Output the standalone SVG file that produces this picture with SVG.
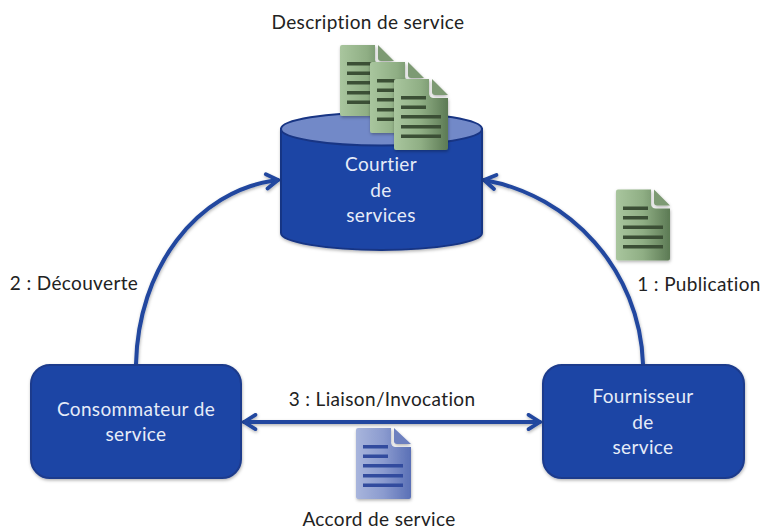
<svg xmlns="http://www.w3.org/2000/svg" xmlns:xlink="http://www.w3.org/1999/xlink" width="761" height="530" viewBox="0 0 761 530">
<style>
text{font-family:"Lato","Open Sans","Liberation Sans",sans-serif;font-size:19px;letter-spacing:.35px;text-anchor:middle}
.w{fill:#e6ecf8}
.k{fill:#222}
.box{fill:#1f45a5;stroke:#1a3a8c;stroke-width:2}
.cyl{fill:#1f45a5;stroke:#183584;stroke-width:2}
.top{fill:#7289c8;stroke:#183584;stroke-width:2}
.con{fill:none;stroke:#20479f;stroke-width:4;stroke-linecap:round;stroke-linejoin:round}
</style>
<defs>
<linearGradient id="gg"><stop offset="0" stop-color="#a9c69e"/><stop offset=".5" stop-color="#8fae84"/><stop offset="1" stop-color="#5c7a54"/></linearGradient>
<linearGradient id="bg"><stop offset="0" stop-color="#a8b5dc"/><stop offset=".5" stop-color="#8b9bcf"/><stop offset="1" stop-color="#5a70b6"/></linearGradient>
<filter id="sh" x="-20%" y="-20%" width="140%" height="140%"><feDropShadow dx="0.5" dy="1.5" stdDeviation="1.5" flood-color="#000" flood-opacity=".3"/></filter>
<marker id="ah" viewBox="0 0 20 20" refX="16" refY="10" markerWidth="19" markerHeight="19" markerUnits="userSpaceOnUse" orient="auto-start-reverse"><path d="M4 2.500L16 10L4 17.500" fill="none" stroke="#20479f" stroke-width="4" stroke-linecap="round" stroke-linejoin="round"/></marker>
<g id="bars"><path d="M7 17h25v3.500H7zM7 26.500h25v3.500H7zM7 36h40v3.500H7zM7 46h40v3.500H7zM7 55.500h40v3.500H7z"/></g>
</defs>
<g id="connectors" filter="url(#sh)">
<path class="con" d="M136 364C138 270 195 190 278 180" marker-end="url(#ah)"/>
<path class="con" d="M643 364C640 270 570 195 484 180" marker-end="url(#ah)"/>
<path class="con" d="M244 422H540" marker-start="url(#ah)" marker-end="url(#ah)"/>
</g>
<g id="courtier">
<path class="cyl" filter="url(#sh)" d="M281 129V233C281 242 326 250 381.500 250S482 242 482 233V129Z"/>
<ellipse class="top" cx="381.500" cy="129" rx="100.500" ry="16.500"/>
<text class="w" x="381" y="171">Courtier</text>
<text class="w" x="381" y="197">de</text>
<text class="w" x="381" y="222">services</text>
</g>
<g id="consommateur">
<rect class="box" filter="url(#sh)" x="31" y="365" width="210" height="113" rx="19"/>
<text class="w" x="136" y="416">Consommateur de</text>
<text class="w" x="136" y="441">service</text>
</g>
<g id="fournisseur">
<rect class="box" filter="url(#sh)" x="543" y="365" width="201" height="113" rx="19"/>
<text class="w" x="643" y="403">Fournisseur</text>
<text class="w" x="643" y="429">de</text>
<text class="w" x="643" y="454">service</text>
</g>
<g id="doc-description-1" transform="translate(340 45)" filter="url(#sh)">
<path fill="url(#gg)" d="M2 0H35V14Q35 19 40 19H54V69Q54 71 52 71H2Q0 71 0 69V2Q0 0 2 0Z"/><path fill="#7d9a73" d="M38 0L54 16H41Q38 16 38 13Z"/><use xlink:href="#bars" fill="#3a4f35"/>
</g>
<g id="doc-description-2" transform="translate(370 62)" filter="url(#sh)">
<path fill="url(#gg)" d="M2 0H35V14Q35 19 40 19H54V69Q54 71 52 71H2Q0 71 0 69V2Q0 0 2 0Z"/><path fill="#7d9a73" d="M38 0L54 16H41Q38 16 38 13Z"/><use xlink:href="#bars" fill="#3a4f35"/>
</g>
<g id="doc-description-3" transform="translate(394 79)" filter="url(#sh)">
<path fill="url(#gg)" d="M2 0H35V14Q35 19 40 19H54V69Q54 71 52 71H2Q0 71 0 69V2Q0 0 2 0Z"/><path fill="#7d9a73" d="M38 0L54 16H41Q38 16 38 13Z"/><use xlink:href="#bars" fill="#3a4f35"/>
</g>
<g id="doc-publication" transform="translate(616 189.500)" filter="url(#sh)">
<path fill="url(#gg)" d="M2 0H35V14Q35 19 40 19H54V69Q54 71 52 71H2Q0 71 0 69V2Q0 0 2 0Z"/><path fill="#7d9a73" d="M38 0L54 16H41Q38 16 38 13Z"/><use xlink:href="#bars" fill="#3a4f35"/>
</g>
<g id="doc-accord" transform="translate(356 428)" filter="url(#sh)">
<path fill="url(#bg)" d="M2 0H35V14Q35 19 40 19H55V69Q55 71 53 71H2Q0 71 0 69V2Q0 0 2 0Z"/><path fill="#6d80bf" d="M38 0L55 16H41Q38 16 38 13Z"/><use xlink:href="#bars" fill="#304c9e"/>
</g>
<g id="labels">
<text class="k" x="368" y="29">Description de service</text>
<text class="k" x="699" y="291">1 : Publication</text>
<text class="k" x="74" y="290">2 : Découverte</text>
<text class="k" x="382" y="406">3 : Liaison/Invocation</text>
<text class="k" x="379" y="526">Accord de service</text>
</g>
</svg>
